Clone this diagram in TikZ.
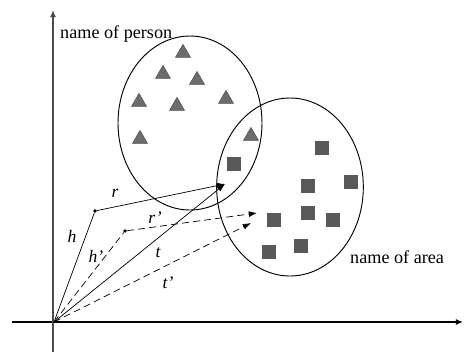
\documentclass[tikz,border=0pt]{standalone}
\usepackage{fontspec}
\setmainfont{Liberation Serif}
\usetikzlibrary{shapes.geometric}
\usetikzlibrary{arrows.meta}

\begin{document}
\begin{tikzpicture}[x=0.03cm,y=-0.03cm]
	\tikzstyle{tri}=[regular polygon,regular polygon sides=3,fill=gray!85!black,draw=gray!60!black,minimum size=0.52cm,inner sep=0pt]
	\tikzstyle{sq}=[fill=gray!70!black,minimum size=0.42cm,inner sep=0pt]
	\tikzstyle{dot}=[circle,fill,inner sep=0pt,minimum size=3pt]
	\tikzstyle{vec}=[-{Latex[length=7pt,width=5pt]},semithick]
	\tikzstyle{vecd}=[vec,dash pattern=on 6pt off 3.5pt]
	\tikzstyle{lbl}=[font=\fontsize{15}{15}\selectfont\itshape,inner sep=0pt]
	\tikzstyle{setname}=[font=\fontsize{15.5}{16}\selectfont,inner sep=0pt,anchor=base west]
	\useasboundingbox (0,0) rectangle (464,354);
	% axes
	\coordinate (O) at (54,322);
	\coordinate (xend) at (463,322);
	\coordinate (xbeg) at (12,322);
	\coordinate (yend) at (53,10);
	\coordinate (ybeg) at (53,352);
	\draw[-{Latex[length=6pt,width=5pt]}, line width=1.1pt] (xbeg) -- (xend);
	\draw[-{Latex[length=6pt,width=5pt]}, line width=1.1pt, gray!60!black] (ybeg) -- (yend);
	% the two sets
	\node (person) [ellipse, draw, thick, minimum width=4.32cm, minimum height=5.22cm] at (190,123) {};
	\node (area) [ellipse, draw, thick, minimum width=4.4cm, minimum height=5.34cm] at (290,187) {};
	\node (pname) [setname] at (60,38) {name of person};
	\node (aname) [setname] at (350,263) {name of area};
	% entities
	\foreach \p in {(183,53),(163,74),(197,80),(139,102),(177,106),(226,99),(140,139),(251,136)}
		\node [tri] at \p {};
	\foreach \p in {(234,164),(322,148),(308,186),(351,182),(274,220),(308,213),(333,220),(301,246),(269,252)}
		\node [sq] at \p {};
	% vectors
	\node (hdot) [dot] at (95,211) {};
	\node (hpdot) [dot] at (125,231) {};
	\coordinate (tend) at (225,184);
	\coordinate (rpend) at (257,213);
	\coordinate (tpend) at (251,223);
	\draw[semithick] (O) -- (hdot);
	\draw[semithick, dash pattern=on 6pt off 3.5pt] (O) -- (hpdot);
	\draw[vec] (hdot) -- (tend);
	\draw[vec] (O) -- (tend);
	\draw[vecd] (hpdot) -- (rpend);
	\draw[vecd] (O) -- (tpend);
	\node (hl) [lbl] at (72,236) {h};
	\node (hpl) [lbl] at (96,256) {h'};
	\node (rl) [lbl] at (115,193) {r};
	\node (rpl) [lbl] at (155,218) {r'};
	\node (tl) [lbl] at (158,253) {t};
	\node (tpl) [lbl] at (168,283) {t'};
\end{tikzpicture}
\end{document}
